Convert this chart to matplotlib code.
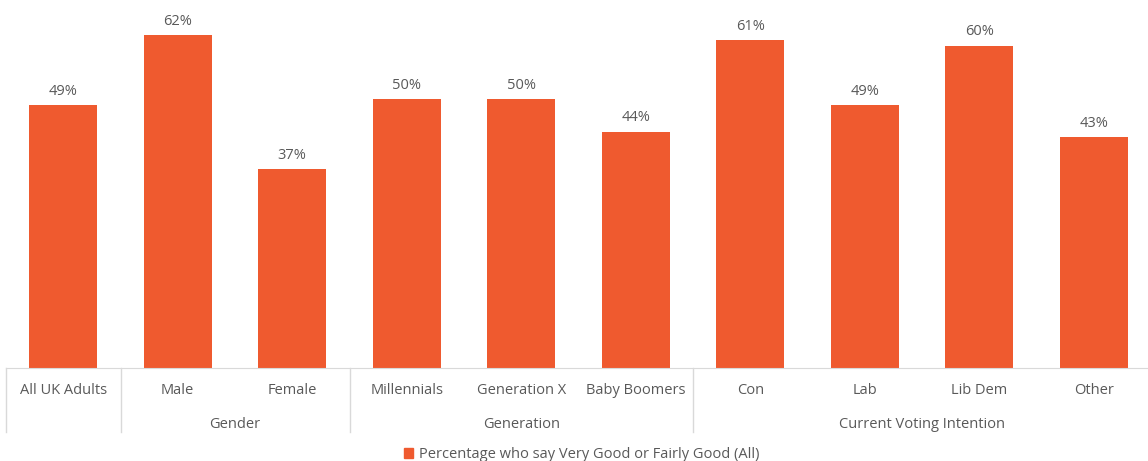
import matplotlib
matplotlib.use("Agg")
import matplotlib.pyplot as plt
from matplotlib.patches import Patch
import matplotlib.transforms as mtransforms

categories = ["All UK Adults", "Male", "Female", "Millennials", "Generation X",
              "Baby Boomers", "Con", "Lab", "Lib Dem", "Other"]
values = [49, 62, 37, 50, 50, 44, 61, 49, 60, 43]
groups = [("Gender", 1, 2), ("Generation", 3, 5), ("Current Voting Intention", 6, 9)]
separators = [-0.5, 0.5, 2.5, 5.5]
series_name = "Percentage who say Very Good or Fairly Good (All)"

BAR = "#EF5A2F"
TXT = "#595959"
plt.rcParams['font.family'] = ['Open Sans', 'DejaVu Sans']

W, H = 1148, 461
fig = plt.figure(figsize=(W / 100, H / 100), dpi=100)
left, right, top, base = 6, 1151, 0, 368
ax = fig.add_axes([left / W, (H - base) / H, (right - left) / W, (base - top) / H])

x = list(range(len(categories)))
ax.bar(x, values, width=0.59, color=BAR, zorder=2)
ax.set_xlim(-0.5, len(categories) - 0.5)
ax.set_ylim(0, 68.5)
for xi, v in zip(x, values):
    ax.annotate(f"{v}%", (xi, v), xytext=(0, 4.5), textcoords="offset points",
                ha="center", va="bottom", fontsize=10.5, color=TXT)

for s in ["top", "right", "left"]:
    ax.spines[s].set_visible(False)
ax.spines["bottom"].set_color("#D9D9D9")
ax.set_yticks([])
ax.set_xticks([])

trans = mtransforms.blended_transform_factory(ax.transData, ax.transAxes)
for xi, c in zip(x, categories):
    ax.annotate(c, (xi, 0), xycoords=trans, xytext=(0, -16.5), textcoords="offset points",
                ha="center", va="center", fontsize=10.5, color=TXT)
for name, a, b in groups:
    ax.annotate(name, ((a + b) / 2, 0), xycoords=trans, xytext=(0, -40.5),
                textcoords="offset points", ha="center", va="center", fontsize=10.5, color=TXT)
for sx in separators:
    ax.plot([sx, sx], [0, -64 / 368], transform=trans, color="#D9D9D9", lw=1, clip_on=False)

fig.legend(handles=[Patch(color=BAR, label=series_name)], loc="lower center",
           bbox_to_anchor=(0.507, -0.031), frameon=False, fontsize=10.5,
           handlelength=0.6, handleheight=0.6, handletextpad=0.4, labelcolor=TXT)

fig.savefig("out.png", dpi=100, facecolor="white")
